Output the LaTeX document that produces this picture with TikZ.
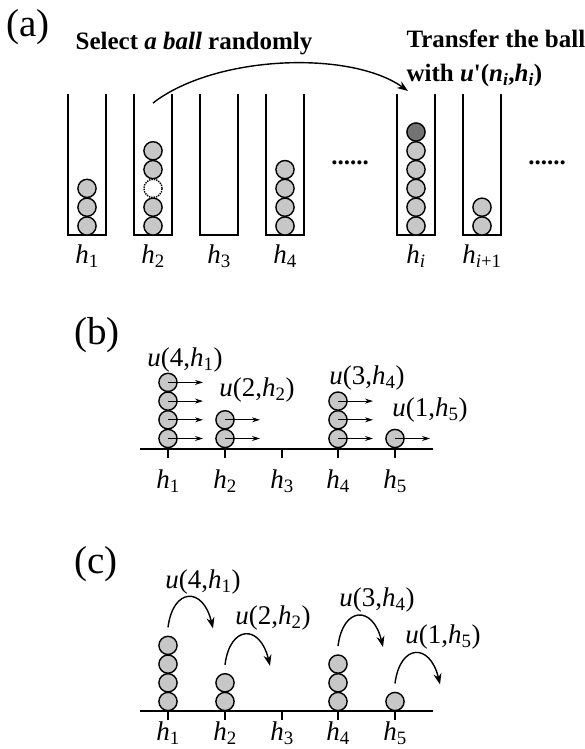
\documentclass[tikz,border=0pt]{standalone}
\usepackage{fontspec}
\setmainfont{LiberationSerif}[Extension=.ttf,UprightFont=*-Regular,BoldFont=*-Bold,ItalicFont=*-Italic,BoldItalicFont=*-BoldItalic]
\usetikzlibrary{arrows.meta}

\newcommand{\hlab}[1]{\textit{h}\textsubscript{#1}}
\newcommand{\ulab}[2]{\textit{u}(#1,\hlab{#2})}

\begin{document}
\begin{tikzpicture}[x=1pt,y=-1pt,
  ball/.style={circle,draw,line width=1.4pt,fill=black!22,minimum size=18.2pt,inner sep=0pt},
  hole/.style={ball,fill=white,densely dotted},
  darkball/.style={ball,fill=black!55},
  tube/.style={line width=1.7pt},
  tag/.style={font=\fontsize{39}{44}\selectfont},
  lab/.style={font=\fontsize{27}{30}\selectfont},
  head/.style={font=\bfseries\fontsize{25}{28}\selectfont},
  push/.style={line width=0.9pt,-{Stealth[length=8pt,width=5pt]}},
  hop/.style={line width=1.4pt,-{Stealth[length=11pt,width=8pt]}}]
  \useasboundingbox (0,0) rectangle (585,749);

  % (a) tubes
  \node[tag] (pa) at (28,27) {(a)};
  \foreach \x/\s [count=\k] in {87/1,153/2,219/3,285/4,416/{\textit{i}},482/{\textit{i}+1}} {
    \draw[tube] (\x-19,94) |- (\x+19,235) -- (\x+19,94);
    \node[lab] (ha\k) at (\x,256) {\hlab{\s}};
  }
  \foreach \x/\m in {87/3,285/4,416/5,482/2}
    \foreach \k in {1,...,\m}
      \node[ball] (a\x-\k) at (\x,{226-(\k-1)*18.8}) {};
  \node[darkball] (moved) at (416,{226-5*18.8}) {};
  \foreach \k in {1,2,4,5}
    \node[ball] (a153-\k) at (153,{226-(\k-1)*18.8}) {};
  \node[hole] (gap) at (153,{226-2*18.8}) {};
  \node[head,anchor=base] (more1) at (350,164) {......};
  \node[head,anchor=base] (more2) at (547,164) {......};

  \node[head,anchor=base] (select) at (194,50) {Select \textit{a ball} randomly};
  \node[head,anchor=base west] (move1) at (403,48) {Transfer the ball};
  \node[head,anchor=base west] (move2) at (403,82)
    {with \textit{u}\textquotesingle(\textit{n}\textsubscript{\textit{i}},\textit{h}\textsubscript{\textit{i}})};
  \coordinate (pick) at (153,103);
  \coordinate (drop) at (408,91);
  \draw[hop] (pick) .. controls (215,55) and (350,50) .. (drop);

  % (b) uniform push
  \node[tag] (pb) at (97,335) {(b)};
  \draw[tube] (140,449) -- (433,449);
  \foreach \x/\s [count=\k] in {168/1,225/2,282/3,338/4,395/5} {
    \draw[tube] (\x,449) -- (\x,458);
    \node[lab] (hb\k) at (\x,481) {\hlab{\s}};
  }
  \foreach \x/\m in {168/4,225/2,338/3,395/1}
    \foreach \k in {1,...,\m} {
      \node[ball] (b\x-\k) at (\x,{438.5-(\k-1)*18.7}) {};
      \path (b\x-\k.center) ++(35,0) coordinate (be\x-\k);
      \draw[push] (b\x-\k.center) -- (be\x-\k);
    }
  \node[lab] (ub1) at (185,360) {\ulab{4}{1}};
  \node[lab] (ub2) at (257,390) {\ulab{2}{2}};
  \node[lab] (ub4) at (367,378) {\ulab{3}{4}};
  \node[lab] (ub5) at (430,410) {\ulab{1}{5}};

  % (c) jumps
  \node[tag] (pc) at (96,564) {(c)};
  \draw[tube] (140,711) -- (433,711);
  \foreach \x/\s [count=\k] in {168/1,225/2,282/3,338/4,395/5} {
    \draw[tube] (\x,711) -- (\x,720);
    \node[lab] (hc\k) at (\x,733) {\hlab{\s}};
  }
  \foreach \x/\m in {168/4,225/2,338/3,395/1} {
    \foreach \k in {1,...,\m}
      \node[ball] (c\x-\k) at (\x,{701.5-(\k-1)*18.7}) {};
    \path (c\x-\m.center) ++(0,-18) coordinate (cs\x) ++(45,1) coordinate (ct\x);
    \draw[hop] (cs\x) .. controls +(5,-40) and +(-10,-42) .. (ct\x);
  }
  \node[lab] (uc1) at (203,582) {\ulab{4}{1}};
  \node[lab] (uc2) at (273,618) {\ulab{2}{2}};
  \node[lab] (uc4) at (377,600) {\ulab{3}{4}};
  \node[lab] (uc5) at (443,637) {\ulab{1}{5}};
\end{tikzpicture}
\end{document}
